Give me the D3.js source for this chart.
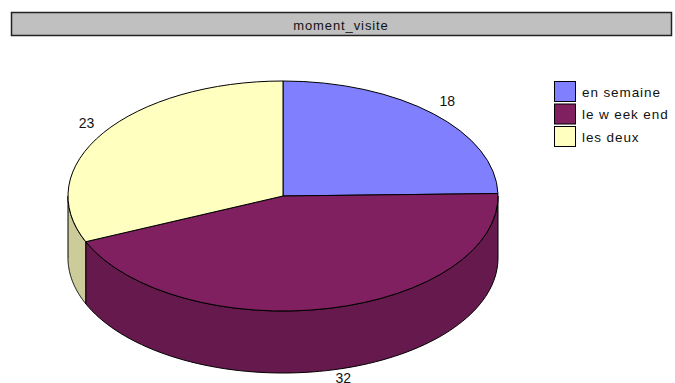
<!DOCTYPE html>
<html><head><meta charset="utf-8">
<script src="https://cdn.jsdelivr.net/npm/d3@7"></script>
<style>body{margin:0;background:#fff}svg{display:block}</style>
</head><body>
<svg id="c" width="675" height="383"></svg>
<script>
const title = "moment_visite";
const categories = ["en semaine", "le w eek end", "les deux"];
const values = [18, 32, 23];
const topColors = ["#8080ff", "#802060", "#ffffc0"];
const sideColors = ["#6666cc", "#66194d", "#cccc9a"];

const svg = d3.select("#c");
const cx = 283, cy = 196, rx = 215, ry = 115, depth = 62;
const font = "'Liberation Sans', Arial, sans-serif";

// title box
svg.append("rect").attr("x", 11.5).attr("y", 12.5).attr("width", 660).attr("height", 23)
  .attr("fill", "#c0c0c0").attr("stroke", "#222").attr("stroke-width", 1.5);
svg.append("text").attr("x", 341).attr("y", 29.5).attr("text-anchor", "middle")
  .attr("font-family", font).attr("font-size", 13).attr("letter-spacing", 0.9)
  .attr("fill", "#111").text(title);

const pie = d3.pie().sort(null).value(d => d)(values);
const px = a => cx + rx * Math.sin(a);
const py = (a, dz = 0) => cy - ry * Math.cos(a) + dz;

const g = svg.append("g");

// side walls (front half: angles between PI/2 and 3PI/2)
pie.forEach((d, i) => {
  const s = Math.max(d.startAngle, Math.PI / 2);
  const e = Math.min(d.endAngle, 3 * Math.PI / 2);
  if (e <= s) return;
  const n = 80;
  const pts = d3.range(n + 1).map(k => s + (e - s) * k / n);
  let p = "M" + pts.map(a => px(a).toFixed(2) + "," + py(a).toFixed(2)).join("L");
  p += "L" + pts.slice().reverse().map(a => px(a).toFixed(2) + "," + py(a, depth).toFixed(2)).join("L") + "Z";
  g.append("path").attr("d", p).attr("fill", sideColors[i])
    .attr("stroke", "#000").attr("stroke-width", 1).attr("stroke-linejoin", "round");
});

// top faces
pie.forEach((d, i) => {
  const a0 = d.startAngle, a1 = d.endAngle;
  const large = (a1 - a0) > Math.PI ? 1 : 0;
  const p = `M${cx},${cy}L${px(a0)},${py(a0)}A${rx},${ry} 0 ${large} 1 ${px(a1)},${py(a1)}Z`;
  g.append("path").attr("d", p).attr("fill", topColors[i])
    .attr("stroke", "#000").attr("stroke-width", 1).attr("stroke-linejoin", "round");
});

// value labels
pie.forEach((d, i) => {
  const m = (d.startAngle + d.endAngle) / 2;
  let x = cx + (rx + 20) * Math.sin(m);
  let y = cy - (ry + 18) * Math.cos(m);
  if (Math.cos(m) < 0) { y += depth - 10; x += 10; }
  svg.append("text").attr("x", x).attr("y", y + 5).attr("text-anchor", "middle")
    .attr("font-family", font).attr("font-size", 14).attr("fill", "#111").text(values[i]);
});

// legend
const lg = svg.append("g");
categories.forEach((c, i) => {
  const y = 81.5 + i * 22.5;
  lg.append("rect").attr("x", 554.5).attr("y", y).attr("width", 21).attr("height", 20)
    .attr("fill", topColors[i]).attr("stroke", "#000").attr("stroke-width", 1);
  lg.append("text").attr("x", 582).attr("y", y + 15).attr("font-family", font)
    .attr("font-size", 13.5).attr("letter-spacing", 0.9).attr("fill", "#111").text(c);
});
</script>
</body></html>
